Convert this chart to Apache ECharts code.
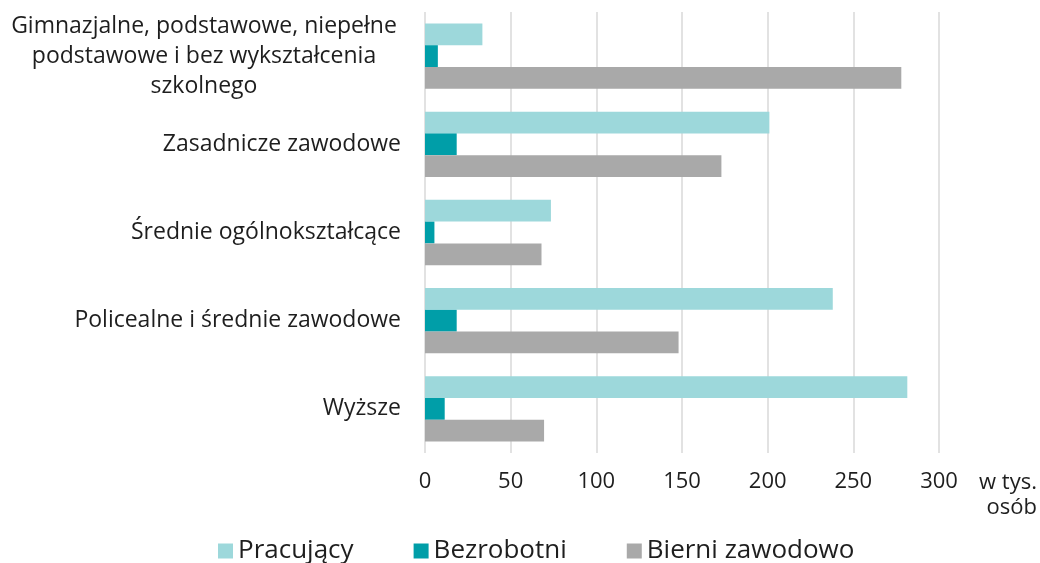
<!DOCTYPE html>
<html>
<head>
<meta charset="utf-8">
<script src="https://cdn.jsdelivr.net/npm/echarts@6/dist/echarts.min.js"></script>
<style>
  html, body { margin: 0; padding: 0; background: #fff; }
  #chart { width: 1040px; height: 563px; }
</style>
</head>
<body>
<div id="chart"></div>
<script>
// kategorie wykształcenia (od góry)
var categories = [
    'Gimnazjalne, podstawowe, niepełne\npodstawowe i bez wykształcenia\nszkolnego',
    'Zasadnicze zawodowe',
    'Średnie ogólnokształcące',
    'Policealne i średnie zawodowe',
    'Wyższe'
];
var seriesNames = ['Pracujący', 'Bezrobotni', 'Bierni zawodowo'];
// w tys. osób
var pracujacy = [33.5, 201, 73.5, 238, 281.5];
var bezrobotni = [7.5, 18.5, 5.5, 18.5, 11.5];
var bierni = [278, 173, 68, 148, 69.5];
var xTicks = [0, 50, 100, 150, 200, 250, 300];

var colors = ['#9dd8db', '#009ea8', '#a9a9a9'];
var fontName = '"Open Sans", "Noto Sans", sans-serif';
var textColor = '#1e1e1e';

var myChart = echarts.init(document.getElementById('chart'));
var values = [pracujacy, bezrobotni, bierni];
var series = seriesNames.map(function (name, i) {
    return {
        name: name,
        type: 'bar',
        barGap: '0%',
        barCategoryGap: '26%',
        data: values[i],
        itemStyle: { color: colors[i] }
    };
});

var option = {
    animation: false,
    color: colors,
    grid: { left: 425, right: 101, top: 12, bottom: 110, containLabel: false },
    legend: {
        data: seriesNames,
        left: 213,
        top: 533,
        itemWidth: 15,
        itemHeight: 15,
        itemGap: 60,
        icon: 'rect',
        textStyle: { fontSize: 26, color: textColor, fontFamily: fontName }
    },
    xAxis: {
        type: 'value',
        min: xTicks[0],
        max: xTicks[xTicks.length - 1],
        interval: 50,
        axisLine: { show: false },
        axisTick: { show: false },
        splitLine: { lineStyle: { color: '#d9d9d9', width: 1.5 } },
        axisLabel: { fontSize: 22, color: textColor, fontFamily: fontName, margin: 18 }
    },
    yAxis: {
        type: 'category',
        inverse: true,
        data: categories,
        axisLine: { show: false },
        axisTick: { show: false },
        axisLabel: {
            margin: 24,
            fontSize: 23,
            color: textColor,
            fontFamily: fontName,
            lineHeight: 30,
            formatter: function (v) {
                if (v.indexOf('\n') < 0) return v;
                return v.split('\n').map(function (l) { return '{c|' + l + '}'; }).join('\n');
            },
            rich: {
                c: { width: 394, align: 'center', fontSize: 23, lineHeight: 30, color: textColor, fontFamily: fontName }
            }
        }
    },
    graphic: [{
        type: 'text',
        x: 1037,
        y: 470,
        style: {
            text: 'w tys.\nosób',
            align: 'right',
            fontSize: 22,
            lineHeight: 25,
            fill: textColor,
            fontFamily: fontName
        }
    }],
    series: series
};
myChart.setOption(option);
</script>
</body>
</html>
